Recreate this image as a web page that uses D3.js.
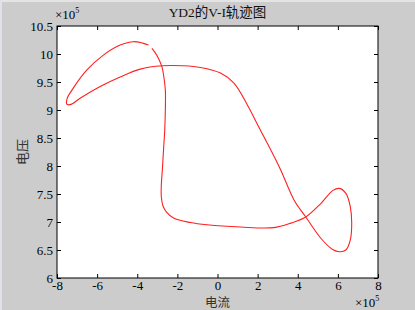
<!DOCTYPE html>
<html>
<head>
<meta charset="utf-8">
<script src="https://cdn.jsdelivr.net/npm/d3@7"></script>
<style>
  html, body { margin: 0; padding: 0; background: #cccccc; }
  svg { display: block; }
  .tick text { font-family: "Liberation Serif", "DejaVu Serif", serif; font-size: 13px; fill: #000; }
</style>
</head>
<body>
<div id="chart"></div>
<script>
const current = [-3.27, -3.10, -2.94, -2.77, -2.69, -2.60, -2.60, -2.63, -2.69, -2.75, -2.80, -2.80, -2.72, -2.55, -2.19,
  -1.35, -0.52, 1.15, 2.80, 3.65, 4.40, 5.15, 5.74, 6.07, 6.40, 6.62, 6.69, 6.62, 6.40, 6.07, 5.74, 5.15,
  4.40, 3.82, 3.15, 2.65, 2.05, 1.49, 0.82, 0.15, -0.85, -1.69, -2.77, -3.85, -4.85, -5.85, -6.85, -7.30,
  -7.50, -7.50, -7.19, -6.52, -5.69, -4.85, -4.19, -3.69, -3.44];
const voltage = [10.10, 10.02, 9.92, 9.77, 9.63, 9.36, 9.00, 8.64, 8.29, 7.93, 7.66, 7.45, 7.29, 7.18, 7.07,
  6.99, 6.95, 6.91, 6.90, 6.98, 7.09, 7.33, 7.56, 7.60, 7.51, 7.27, 6.98, 6.68, 6.50, 6.47, 6.51, 6.71,
  7.09, 7.39, 7.93, 8.29, 8.70, 9.09, 9.48, 9.66, 9.76, 9.79, 9.79, 9.73, 9.59, 9.42, 9.21, 9.10,
  9.10, 9.20, 9.39, 9.71, 9.98, 10.16, 10.22, 10.19, 10.16];
const xTicks = [-8, -6, -4, -2, 0, 2, 4, 6, 8];
const yTicks = [6, 6.5, 7, 7.5, 8, 8.5, 9, 9.5, 10, 10.5];

const W = 415, H = 310;
const margin = { top: 26, right: 37, bottom: 32, left: 57 };
const width = W - margin.left - margin.right;
const height = H - margin.top - margin.bottom;

const svg = d3.select("#chart").append("svg")
  .attr("width", W).attr("height", H);

// window frame
svg.append("rect").attr("width", W).attr("height", H).attr("fill", "#cccccc");
svg.append("rect").attr("x", 0).attr("y", 0).attr("width", W).attr("height", 2).attr("fill", "#e4e4e4");
svg.append("rect").attr("x", 0).attr("y", 0).attr("width", 2).attr("height", H).attr("fill", "#dfe3e8");

const g = svg.append("g").attr("transform", `translate(${margin.left},${margin.top})`);

g.append("rect").attr("width", width).attr("height", height).attr("fill", "#fff");

const x = d3.scaleLinear().domain([-8, 8]).range([0, width]);
const y = d3.scaleLinear().domain([6, 10.5]).range([height, 0]);

const fmt = (d) => String(d);

g.append("g").attr("transform", `translate(0,${height})`)
  .call(d3.axisBottom(x).tickValues(xTicks).tickFormat(fmt).tickSizeInner(-4).tickSizeOuter(0).tickPadding(3))
  .call((s) => s.select(".domain").remove());
g.append("g")
  .call(d3.axisTop(x).tickValues(xTicks).tickFormat("").tickSizeInner(-4).tickSizeOuter(0))
  .call((s) => s.select(".domain").remove());
g.append("g")
  .call(d3.axisLeft(y).tickValues(yTicks).tickFormat(fmt).tickSizeInner(-4).tickSizeOuter(0).tickPadding(4))
  .call((s) => s.select(".domain").remove());
g.append("g").attr("transform", `translate(${width},0)`)
  .call(d3.axisRight(y).tickValues(yTicks).tickFormat("").tickSizeInner(-4).tickSizeOuter(0))
  .call((s) => s.select(".domain").remove());

g.selectAll(".tick line").attr("stroke", "#000");

g.append("rect").attr("width", width).attr("height", height)
  .attr("fill", "none").attr("stroke", "#000").attr("stroke-width", 1);

// trajectory
const pts = current.map((c, i) => [c, voltage[i]]);
g.append("path")
  .datum(pts)
  .attr("fill", "none")
  .attr("stroke", "#ff2020")
  .attr("stroke-width", 1.1)
  .attr("d", d3.line().x((d) => x(d[0])).y((d) => y(d[1])).curve(d3.curveCatmullRom.alpha(0.5)));

// exponent markers
const serif = '"Liberation Serif", "DejaVu Serif", serif';
const exp = (tx, ty) => {
  const t = svg.append("text").attr("x", tx).attr("y", ty)
    .attr("font-family", serif).attr("font-size", 13).attr("fill", "#000");
  t.append("tspan").text("×10");
  t.append("tspan").attr("font-size", 8).attr("dy", -6).text("5");
};
exp(55, 19);
exp(355, 307);

// title and labels
svg.append("text").attr("x", margin.left + width / 2).attr("y", 17)
  .attr("text-anchor", "middle")
  .attr("font-family", '"Liberation Serif", "Noto Sans CJK SC", serif')
  .attr("font-size", 13.5).attr("fill", "#111")
  .text("YD2的V-I轨迹图");

svg.append("text").attr("x", margin.left + width / 2).attr("y", 307)
  .attr("text-anchor", "middle")
  .attr("font-family", '"Noto Sans CJK SC", sans-serif')
  .attr("font-size", 12.5).attr("fill", "#333")
  .text("电流");

svg.append("text")
  .attr("transform", `translate(27,${margin.top + height / 2}) rotate(-90)`)
  .attr("text-anchor", "middle")
  .attr("font-family", '"Noto Sans CJK SC", sans-serif')
  .attr("font-size", 13).attr("fill", "#333")
  .text("电压");
</script>
</body>
</html>
